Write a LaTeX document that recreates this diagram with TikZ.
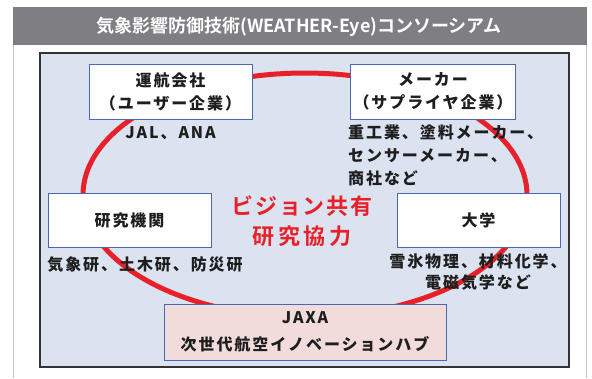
\documentclass[tikz,border=0pt]{standalone}
\usepackage{fontspec}
\setmainfont{Noto Sans CJK JP}[BoldFont={* Bold}]
\newfontfamily\jpfont{Noto Sans CJK JP}[BoldFont={* Black}, LetterSpace=12]
\newfontfamily\redfont{Noto Sans CJK JP}[BoldFont={* Bold}, LetterSpace=8]

\definecolor{titlegray}{HTML}{7F7F83}
\definecolor{framegray}{HTML}{C4C4C4}
\definecolor{panelblue}{HTML}{DCE3F0}
\definecolor{boxblue}{HTML}{4A68B0}
\definecolor{ringred}{HTML}{E8202A}
\definecolor{jaxapink}{HTML}{F2DCDB}
\definecolor{inkgray}{HTML}{1E1E1E}

\begin{document}
\begin{tikzpicture}[x=1pt, y=-1pt,
  orgbox/.style={draw=boxblue, line width=1pt, fill=white, minimum width=163pt,
    minimum height=55pt, align=center, text=inkgray,
    font=\jpfont\bfseries\fontsize{16}{23}\selectfont},
  subtext/.style={inner sep=0pt, text=inkgray,
    font=\jpfont\bfseries\fontsize{16}{23}\selectfont}]
  \useasboundingbox (0,0) rectangle (592,378);
  \draw[framegray, line width=1pt] (13,378) -- (13,7) -- (586,7) -- (586,378);
  \fill[titlegray] (13,7) rectangle (587,45);
  \node[text=white, font=\bfseries\fontsize{18}{22}\selectfont] (title) at (299,26.5)
    {気象影響防御技術(WEATHER-Eye)コンソーシアム};
  \filldraw[fill=panelblue, draw=black!80, line width=1.3pt] (40,53) rectangle (569,367);
  \draw[ringred, line width=5pt] (305,195) ellipse (222 and 122);
  \node[orgbox] (user) at (170.5,91.5) {運航会社\\（ユーザー企業）};
  \node[orgbox] (maker) at (433,91.5) {メーカー\\（サプライヤ企業）};
  \node[orgbox, minimum height=54pt] (lab) at (129.5,220) {研究機関};
  \node[orgbox, minimum height=54pt] (univ) at (478.5,220) {大学};
  \node[orgbox, fill=jaxapink, minimum width=282pt, minimum height=56pt,
    font=\jpfont\bfseries\fontsize{16}{27}\selectfont] (jaxa) at (305,332)
    {JAXA\\次世代航空イノベーションハブ};
  \node[subtext] (airline) at (170.5,133) {JAL、ANA};
  \node[subtext, anchor=west, align=left] (makerlist) at (348,155)
    {重工業、塗料メーカー、\\センサーメーカー、\\商社など};
  \node[subtext] (lablist) at (145,265) {気象研、土木研、防災研};
  \node[subtext, align=center, font=\jpfont\bfseries\fontsize{16}{20.5}\selectfont]
    (univlist) at (478,272) {雪氷物理、材料化学、\\電磁気学など};
  \node[text=ringred, align=center, font=\redfont\bfseries\fontsize{22}{30}\selectfont]
    (vision) at (302,221) {ビジョン共有\\{\addfontfeature{LetterSpace=16}研究協力}};
\end{tikzpicture}
\end{document}
